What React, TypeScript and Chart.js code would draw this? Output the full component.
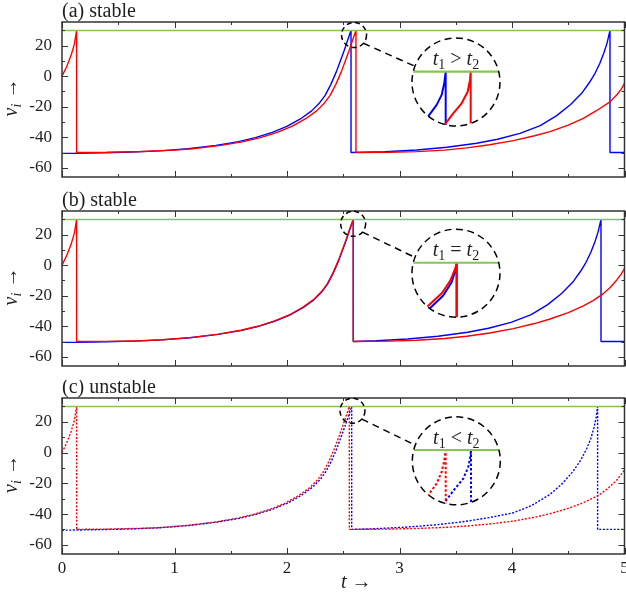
import { useEffect, useRef } from 'react';
import { Chart, registerables } from 'chart.js';

Chart.register(...registerables);

type Pt = [number, number];

// ---------- axes ----------
const T_MIN = 0;
const T_MAX = 5;
const V_MIN = -66;
const V_MAX = 35.5;
const X_MAJOR = [0, 1, 2, 3, 4, 5];
const X_MINOR = [0.5, 1.5, 2.5, 3.5, 4.5];
const Y_MAJOR = [-60, -40, -20, 0, 20];
const Y_MINOR = [-50, -30, -10, 10, 30];
const THRESHOLD = 30;

const TITLES = ['(a) stable', '(b) stable', '(c) unstable'];
const RELATIONS = ['>', '=', '<'];

// ---------- main traces (t, v) ----------
const aRed: Pt[] = [
  [0, 0], [0.04, 6], [0.08, 13.5], [0.11, 21], [0.13, 30], [0.13, -50],
  [0.4, -49.8], [0.7, -49.3], [1.0, -48.4], [1.163, -47.5], [1.413, -45.3], [1.613, -42.8], [1.763, -40.2],
  [1.913, -36.8], [2.043, -32.9], [2.163, -28], [2.263, -22.7], [2.333, -17.5], [2.383, -12.5], [2.433, -5.5],
  [2.483, 3], [2.523, 11], [2.553, 17], [2.583, 23.5], [2.613, 30], [2.613, -50],
  [2.9, -49.8], [3.153, -49.4], [3.4, -48.4], [3.597, -46.9], [3.8, -44.9], [4.012, -42.2], [4.2, -39],
  [4.338, -36.3], [4.5, -32], [4.634, -27.6], [4.75, -22.6], [4.871, -16.8], [4.93, -12.3], [4.97, -8.6], [5.0, -4.6],
];
const aBlue: Pt[] = [
  [0, -50.5], [0.119, -50.4], [0.369, -50.1], [0.619, -49.7], [0.869, -48.9], [1.119, -47.5], [1.369, -45.3],
  [1.569, -42.8], [1.719, -40.2], [1.869, -36.8], [1.999, -32.9], [2.119, -28], [2.219, -22.7], [2.289, -17.5],
  [2.339, -12.5], [2.389, -5.5], [2.439, 3], [2.479, 11], [2.509, 17], [2.539, 23.5], [2.569, 30], [2.569, -50],
  [2.871, -49.5], [3.153, -48.3], [3.421, -46.5], [3.686, -43.9], [3.871, -41.3], [4.071, -37.4], [4.251, -32.3],
  [4.397, -25.8], [4.521, -18.5], [4.619, -11.2], [4.691, -3.8], [4.738, 1.9], [4.781, 8.5], [4.818, 15.5],
  [4.846, 22], [4.871, 30], [4.871, -50], [5, -50],
];
const bRed: Pt[] = [
  [0, 0], [0.04, 6], [0.08, 13.5], [0.11, 21], [0.13, 30], [0.13, -50],
  [0.4, -49.9], [0.7, -49.5], [0.889, -48.8], [1.139, -47.4], [1.389, -45.1], [1.589, -42.6], [1.739, -40],
  [1.889, -36.5], [2.019, -32.6], [2.139, -27.6], [2.239, -22.3], [2.309, -17.1], [2.359, -12], [2.409, -5],
  [2.459, 3.5], [2.499, 11.5], [2.529, 17.5], [2.559, 24], [2.589, 30], [2.589, -50],
  [2.9, -49.7], [3.153, -49.1], [3.4, -48], [3.597, -46.5], [3.8, -44.4], [4.012, -41.5], [4.2, -38.2],
  [4.338, -35.2], [4.5, -31], [4.634, -26.6], [4.72, -23.2], [4.8, -19.3], [4.87, -14.8], [4.93, -9.8],
  [4.97, -5.8], [5.0, -2.3],
];
const bBlue: Pt[] = [
  [0, -50.5], [0.139, -50.4], [0.389, -50.1], [0.639, -49.7], [0.889, -48.9], [1.139, -47.5], [1.389, -45.3],
  [1.589, -42.8], [1.739, -40.2], [1.889, -36.8], [2.019, -32.9], [2.139, -28], [2.239, -22.7], [2.309, -17.5],
  [2.359, -12.5], [2.409, -5.5], [2.459, 3], [2.499, 11], [2.529, 17], [2.559, 23.5], [2.589, 30], [2.589, -50],
  [2.791, -49.5], [3.073, -48.3], [3.341, -46.5], [3.606, -43.9], [3.791, -41.3], [3.991, -37.4], [4.171, -32.3],
  [4.317, -25.8], [4.441, -18.5], [4.539, -11.2], [4.611, -3.8], [4.658, 1.9], [4.701, 8.5], [4.738, 15.5],
  [4.766, 22], [4.791, 30], [4.791, -50], [5, -50],
];
const cRed: Pt[] = [
  [0, 0], [0.04, 6], [0.08, 13.5], [0.11, 21], [0.13, 30], [0.13, -50],
  [0.4, -49.8], [0.7, -49.3], [0.854, -48.9], [1.104, -47.5], [1.354, -45.3], [1.554, -42.8], [1.704, -40.2],
  [1.854, -36.8], [1.984, -32.9], [2.104, -28], [2.204, -22.7], [2.274, -17.5], [2.324, -12.5], [2.374, -5.5],
  [2.424, 3], [2.464, 11], [2.494, 17], [2.524, 23.5], [2.554, 30], [2.554, -50],
  [2.9, -49.8], [3.153, -49.4], [3.4, -48.7], [3.597, -47.8], [3.8, -46.5], [4.012, -44.6], [4.2, -42.1],
  [4.338, -39.8], [4.5, -36.3], [4.634, -32.6], [4.761, -28.2], [4.85, -23.5], [4.93, -18], [5.0, -11.5],
];
const cBlue: Pt[] = [
  [0, -50.5], [0.125, -50.4], [0.375, -50.1], [0.625, -49.7], [0.875, -48.9], [1.125, -47.5], [1.375, -45.3],
  [1.575, -42.8], [1.725, -40.2], [1.875, -36.8], [2.005, -32.9], [2.125, -28], [2.225, -22.7], [2.295, -17.5],
  [2.345, -12.5], [2.395, -5.5], [2.445, 3], [2.485, 11], [2.515, 17], [2.545, 23.5], [2.575, 30], [2.575, -50],
  [2.761, -49.6], [3.043, -48.6], [3.311, -47.1], [3.576, -44.9], [3.8, -42.3], [4.012, -39.2], [4.171, -34.6],
  [4.338, -27.2], [4.45, -20], [4.545, -12], [4.61, -5], [4.664, 2.5], [4.7, 9], [4.73, 16.5], [4.748, 23],
  [4.761, 30], [4.761, -50], [5, -50],
];

// ---------- zoomed insets (dt relative to inset centre, v) ----------
const aInsetRed: Pt[] = [[-0.0264, 15.4], [-0.0181, 17.1], [-0.0048, 19.6], [0.01, 22.1], [0.0206, 25.0], [0.0246, 27.9], [0.0259, 30], [0.0259, 5]];
const aInsetBlue: Pt[] = [[-0.06, 16.7], [-0.047, 19.2], [-0.034, 21.7], [-0.0252, 24.2], [-0.0206, 27.1], [-0.0181, 30], [-0.0181, 5]];
const bInsetRed: Pt[] = [[-0.0651, 16.9], [-0.0484, 19.3], [-0.0246, 22.45], [-0.0097, 25.6], [-0.0009, 28.7], [0.0012, 30], [0.0012, 5]];
const bInsetBlue: Pt[] = [[-0.0634, 16.25], [-0.0458, 18.65], [-0.0224, 21.8], [-0.0076, 25.15], [0, 28.5], [0.0012, 30], [0.0012, 5]];
const cInsetRed: Pt[] = [[-0.0604, 16.7], [-0.0475, 19.2], [-0.0345, 21.7], [-0.0257, 24.6], [-0.0211, 27.5], [-0.0187, 30], [-0.0187, 5]];
const cInsetBlue: Pt[] = [[-0.0252, 15.25], [-0.0169, 17.7], [-0.0023, 20.4], [0.0123, 22.9], [0.0211, 25.8], [0.0246, 28.3], [0.0259, 30], [0.0259, 5]];
const INSET_SPAN: Pt = [-0.2, 0.2];

// inset placement (main-axis coordinates) and magnification
const INSET_CENTER: Pt[] = [[3.502, -3.8], [3.502, -5.2], [3.505, -5.4]];
const INSET_V_CENTER = [27.425, 27.4, 27.3];
const SPOT_CENTER: Pt[] = [[2.596, 27], [2.588, 27.1], [2.582, 27.2]];
const INSET_ZOOM: Pt = [5.05, 2.62];

// ---------- style / layout ----------
const RED = '#ff0000';
const BLUE = '#0000ff';
const GREEN = '#86c454';
const INK = '#1e1e1e';
const FRAME = '#333333';
const FONT = '"Liberation Serif", "Times New Roman", serif';
const R_BIG = 44;
const R_SMALL = 12.5;

const LAYOUT = [
  { top: 0, height: 190, padTop: 22, padBottom: 13, showX: false },
  { top: 190, height: 190, padTop: 21, padBottom: 14, showX: false },
  { top: 380, height: 217, padTop: 18, padBottom: 0, showX: true },
];

const PANELS = [
  { red: aRed, blue: aBlue, insetRed: aInsetRed, insetBlue: aInsetBlue, dotted: false },
  { red: bRed, blue: bBlue, insetRed: bInsetRed, insetBlue: bInsetBlue, dotted: false },
  { red: cRed, blue: cBlue, insetRed: cInsetRed, insetBlue: cInsetBlue, dotted: true },
];

type Part = { s: string; italic?: boolean; size: number; dy?: number };

function partsWidth(ctx: CanvasRenderingContext2D, parts: Part[]) {
  let w = 0;
  for (const p of parts) {
    ctx.font = `${p.italic ? 'italic ' : ''}${p.size}px ${FONT}`;
    w += ctx.measureText(p.s).width;
  }
  return w;
}
function drawParts(ctx: CanvasRenderingContext2D, parts: Part[], x: number, y: number) {
  let cx = x;
  for (const p of parts) {
    ctx.font = `${p.italic ? 'italic ' : ''}${p.size}px ${FONT}`;
    ctx.fillText(p.s, cx, y + (p.dy || 0));
    cx += ctx.measureText(p.s).width;
  }
}

function makeDecor(idx: number) {
  const bigCenter = (chart: any) => ({
    cx: chart.scales.xi.getPixelForValue(0),
    cy: chart.scales.yi.getPixelForValue(INSET_V_CENTER[idx]),
  });
  return {
    id: 'decor' + idx,
    beforeDatasetDraw(chart: any, args: any) {
      const ds = chart.data.datasets[args.index];
      if (!ds.inset) return;
      const { cx, cy } = bigCenter(chart);
      const ctx = chart.ctx;
      ctx.save();
      ctx.beginPath();
      ctx.arc(cx, cy, R_BIG, 0, Math.PI * 2);
      ctx.clip();
    },
    afterDatasetDraw(chart: any, args: any) {
      const ds = chart.data.datasets[args.index];
      if (ds.inset) chart.ctx.restore();
    },
    afterDatasetsDraw(chart: any) {
      const ctx: CanvasRenderingContext2D = chart.ctx;
      const a = chart.chartArea;
      const xs = chart.scales.x;
      const ys = chart.scales.y;
      ctx.save();
      // ticks (inward, mirrored)
      ctx.strokeStyle = FRAME;
      ctx.lineWidth = 1;
      ctx.setLineDash([]);
      ctx.beginPath();
      const xt = (vals: number[], len: number) => {
        for (const v of vals) {
          const px = Math.round(xs.getPixelForValue(v)) + 0.5;
          ctx.moveTo(px, a.bottom); ctx.lineTo(px, a.bottom - len);
          ctx.moveTo(px, a.top); ctx.lineTo(px, a.top + len);
        }
      };
      const yt = (vals: number[], len: number) => {
        for (const v of vals) {
          const py = Math.round(ys.getPixelForValue(v)) + 0.5;
          ctx.moveTo(a.left, py); ctx.lineTo(a.left + len, py);
          ctx.moveTo(a.right, py); ctx.lineTo(a.right - len, py);
        }
      };
      xt(X_MAJOR, 6); xt(X_MINOR, 3); yt(Y_MAJOR, 6); yt(Y_MINOR, 3);
      ctx.stroke();
      ctx.lineWidth = 1.5;
      ctx.strokeRect(a.left, a.top, a.right - a.left, a.bottom - a.top);

      // magnifier circles + connector
      const { cx, cy } = bigCenter(chart);
      const sx = xs.getPixelForValue(SPOT_CENTER[idx][0]);
      const sy = ys.getPixelForValue(SPOT_CENTER[idx][1]);
      ctx.strokeStyle = '#000';
      ctx.lineWidth = 1.5;
      ctx.setLineDash([7, 4.5]);
      ctx.beginPath(); ctx.arc(cx, cy, R_BIG, 0, Math.PI * 2); ctx.stroke();
      ctx.setLineDash([5, 3.5]);
      ctx.beginPath(); ctx.arc(sx, sy, R_SMALL, 0, Math.PI * 2); ctx.stroke();
      const as = (41.7 * Math.PI) / 180;
      const ab = (201 * Math.PI) / 180;
      ctx.setLineDash([7, 5]);
      ctx.beginPath();
      ctx.moveTo(sx + R_SMALL * Math.cos(as), sy + R_SMALL * Math.sin(as));
      ctx.lineTo(cx + R_BIG * Math.cos(ab), cy + R_BIG * Math.sin(ab));
      ctx.stroke();
      ctx.setLineDash([]);

      // inset label
      ctx.fillStyle = INK;
      ctx.textBaseline = 'alphabetic';
      ctx.textAlign = 'left';
      const rel: Part[] = [
        { s: 't', italic: true, size: 20 },
        { s: '1', size: 14, dy: 4 },
        { s: ' ' + RELATIONS[idx] + ' ', size: 20 },
        { s: 't', italic: true, size: 20 },
        { s: '2', size: 14, dy: 4 },
      ];
      drawParts(ctx, rel, cx - partsWidth(ctx, rel) / 2, cy - 17);

      // panel title
      ctx.font = `20px ${FONT}`;
      ctx.fillText(TITLES[idx], a.left, a.top - 5.5);

      // y title (rotated)
      const yl: Part[] = [
        { s: 'v', italic: true, size: 20 },
        { s: 'i', italic: true, size: 14, dy: 4 },
        { s: ' \u2192', size: 20 },
      ];
      ctx.save();
      ctx.translate(17, (a.top + a.bottom) / 2 - 2);
      ctx.rotate(-Math.PI / 2);
      drawParts(ctx, yl, -partsWidth(ctx, yl) / 2, 0);
      ctx.restore();

      // x title
      if (LAYOUT[idx].showX) {
        const xl: Part[] = [
          { s: 't', italic: true, size: 20 },
          { s: ' \u2192', size: 20 },
        ];
        const mid = (a.left + a.right) / 2 + 13;
        drawParts(ctx, xl, mid - partsWidth(ctx, xl) / 2, a.bottom + 34);
      }
      ctx.restore();
    },
  };
}

function Panel({ idx }: { idx: number }) {
  const ref = useRef<HTMLCanvasElement>(null);
  const L = LAYOUT[idx];
  useEffect(() => {
    const P = PANELS[idx];
    const mainW = 1.4;
    const insW = 2;
    const dash = P.dotted ? [2, 1.6] : [];
    const idash = P.dotted ? [2.5, 2] : [];
    const line = (data: Pt[], color: string, width: number, d: number[], inset: boolean) => ({
      data: data.map(([x, y]) => ({ x, y })),
      borderColor: color,
      backgroundColor: color,
      borderWidth: width,
      borderDash: d,
      borderJoinStyle: 'bevel',
      borderCapStyle: 'butt',
      pointRadius: 0,
      pointHoverRadius: 0,
      fill: false,
      tension: 0,
      showLine: true,
      xAxisID: inset ? 'xi' : 'x',
      yAxisID: inset ? 'yi' : 'y',
      inset,
    });
    const thr: Pt[] = [[T_MIN, THRESHOLD], [T_MAX, THRESHOLD]];
    const ithr: Pt[] = [[INSET_SPAN[0], THRESHOLD], [INSET_SPAN[1], THRESHOLD]];
    const c = INSET_CENTER[idx];
    const vc = INSET_V_CENTER[idx];
    const font = { family: FONT, size: 17 };
    const chart = new Chart(ref.current as HTMLCanvasElement, {
      type: 'line',
      data: {
        datasets: [
          line(thr, GREEN, 1.5, [], false),
          line(P.red, RED, mainW, dash, false),
          line(P.blue, BLUE, mainW, dash, false),
          line(ithr, GREEN, 2.2, [], true),
          line(P.insetRed, RED, insW, idash, true),
          line(P.insetBlue, BLUE, insW, idash, true),
        ] as any,
      },
      options: {
        animation: false,
        responsive: false,
        maintainAspectRatio: false,
        events: [],
        layout: { padding: { top: L.padTop, bottom: L.padBottom, left: 0, right: 1.5 } },
        plugins: { legend: { display: false }, tooltip: { enabled: false }, title: { display: false } },
        scales: {
          x: {
            type: 'linear',
            min: T_MIN,
            max: T_MAX,
            display: L.showX,
            ticks: { stepSize: 1, font, color: INK, padding: 4, maxRotation: 0, autoSkip: false },
            grid: { display: false, drawTicks: false },
            border: { display: false },
            afterFit: (s: any) => { s.height = L.showX ? 43 : 0; s.paddingLeft = 0; s.paddingRight = 0; },
          },
          y: {
            type: 'linear',
            min: V_MIN,
            max: V_MAX,
            afterBuildTicks: (s: any) => { s.ticks = Y_MAJOR.map((value) => ({ value })); },
            ticks: { font, color: INK, padding: 10 },
            grid: { display: false, drawTicks: false },
            border: { display: false },
            afterFit: (s: any) => { s.width = 62; s.paddingTop = 0; s.paddingBottom = 0; },
          },
          xi: {
            type: 'linear',
            display: false,
            min: (T_MIN - c[0]) / INSET_ZOOM[0],
            max: (T_MAX - c[0]) / INSET_ZOOM[0],
          },
          yi: {
            type: 'linear',
            display: false,
            min: vc + (V_MIN - c[1]) / INSET_ZOOM[1],
            max: vc + (V_MAX - c[1]) / INSET_ZOOM[1],
          },
        } as any,
      },
      plugins: [makeDecor(idx) as any],
    });
    return () => chart.destroy();
  }, [idx]);
  return (
    <canvas
      ref={ref}
      width={626}
      height={L.height}
      style={{ position: 'absolute', left: 0, top: L.top, width: 626, height: L.height }}
    />
  );
}

export default function App() {
  return (
    <div style={{ position: 'absolute', left: 0, top: 0, width: 626, height: 597, background: '#fff', overflow: 'hidden' }}>
      <Panel idx={0} />
      <Panel idx={1} />
      <Panel idx={2} />
    </div>
  );
}
